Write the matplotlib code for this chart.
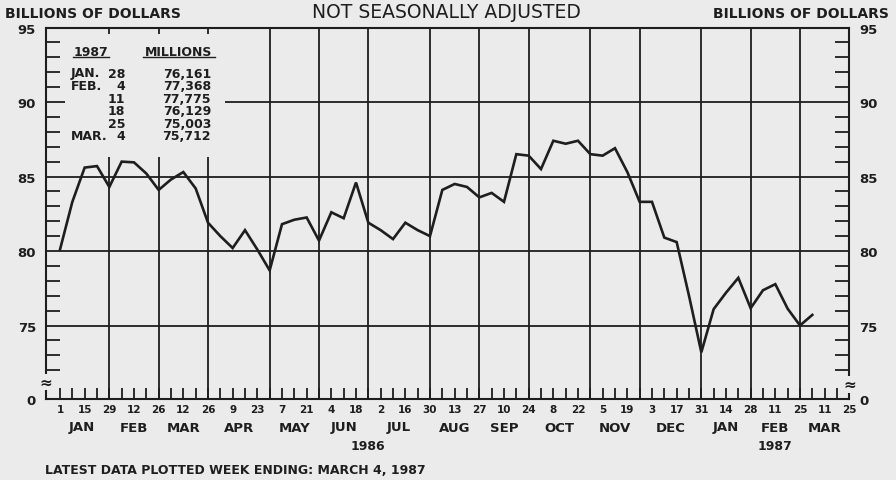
"""
Weekly series, billions of dollars, not seasonally adjusted,
weeks ending Wednesday Jan 1, 1986 through Mar 4, 1987.
Redrawn in the style of the old plotter chart.
"""

import matplotlib
matplotlib.use("Agg")
import matplotlib.pyplot as plt
import matplotlib.transforms as mtransforms
from matplotlib.patches import Rectangle

# weekly values (billions), week 0 = Jan 1 1986
reserves = [
    80.1, 83.3, 85.6, 85.7, 84.3,          # jan 86
    86.0, 85.95, 85.2, 84.1,               # feb
    84.8, 85.3, 84.2, 81.9,                # mar
    81.0, 80.2, 81.4, 80.1, 78.7,          # apr
    81.8, 82.1, 82.25, 80.7,               # may
    82.6, 82.2, 84.6, 81.9,                # jun
    81.4, 80.8, 81.9, 81.4, 81.0,          # jul
    84.1, 84.5, 84.3, 83.6,                # aug
    83.9, 83.3, 86.5, 86.4,                # sep
    85.5, 87.4, 87.2, 87.4, 86.5,          # oct
    86.4, 86.9, 85.3, 83.3,                # nov
    83.3, 80.9, 80.6, 77.0, 73.2,          # dec
    76.1, 77.2, 78.2, 76.161,              # jan 87
    77.368, 77.775, 76.129, 75.003,        # feb
    75.712,                                # mar 4
]

# every other week gets a day label (Jan 1 1986 .. Mar 25 1987)
day_labels = ["1", "15", "29", "12", "26", "12", "26", "9", "23", "7", "21",
              "4", "18", "2", "16", "30", "13", "27", "10", "24", "8", "22",
              "5", "19", "3", "17", "31", "14", "28", "11", "25", "11", "25"]

month_names = ["JAN", "FEB", "MAR", "APR", "MAY", "JUN", "JUL", "AUG",
               "SEP", "OCT", "NOV", "DEC", "JAN", "FEB", "MAR"]
# week index of the last Wednesday in each month (grid lines)
month_ends = [4, 8, 12, 17, 21, 25, 30, 34, 38, 43, 47, 52, 56, 60, 64]

year_labels = ["1986", "1987"]
year_pos = [25, 58]

table_month = ["JAN.", "FEB.", "", "", "", "MAR."]
table_day = ["28", "4", "11", "18", "25", "4"]
table_millions = [76161, 77368, 77775, 76129, 75003, 75712]

BG = "#ebebeb"
INK = "#1e1e1e"
W, H = 896, 481


def fx(x):
    return x / W


def fy(y):
    return 1 - y / H


def plot_chart():
    plt.rcParams["font.family"] = ["DejaVu Sans"]
    fig = plt.figure(figsize=(W / 100, H / 100), dpi=100, facecolor=BG)
    ax = fig.add_axes([0.051, 0.1694, 0.8969, 0.7713], facecolor=BG)

    weeks = list(range(len(reserves)))
    ax.plot(weeks, reserves, color=INK, lw=1.9, zorder=4, solid_joinstyle="miter")

    ax.set_xlim(-1.16, 64)
    ax.set_ylim(70.1, 95)

    # grid
    for w in month_ends[:-1]:
        ax.axvline(w, color=INK, lw=1.3, zorder=1)
    for v in [75, 80, 85, 90]:
        ax.axhline(v, color=INK, lw=1.3, zorder=1)

    for s in ax.spines.values():
        s.set_color(INK)
        s.set_linewidth(1.5)

    # x ticks
    ax.set_xticks(range(0, 65, 2))
    ax.set_xticklabels(day_labels)
    ax.set_xticks(range(1, 64, 2), minor=True)
    ax.tick_params(axis="x", which="both", direction="in", length=8, width=1.3,
                   color=INK, top=False, pad=4)
    ax.tick_params(axis="x", which="major", labelsize=7.5, labelcolor=INK)
    for t in ax.get_xticklabels():
        t.set_fontweight("bold")

    # y ticks, the bottom one stands for zero
    ax.set_yticks([70.1, 75, 80, 85, 90, 95])
    ax.set_yticklabels(["0", "75", "80", "85", "90", "95"])
    ax.set_yticks([v for v in range(72, 95) if v % 5 != 0], minor=True)
    ax.tick_params(axis="y", which="major", length=0, labelsize=9.5,
                   labelcolor=INK, left=True, right=True,
                   labelleft=True, labelright=True)
    ax.tick_params(axis="y", which="major", pad=7)
    ax.tick_params(axis="y", which="minor", direction="in", length=10,
                   width=1.3, color=INK, left=True, right=True)
    for t in ax.get_yticklabels():
        t.set_fontweight("bold")
    for tick in ax.yaxis.get_major_ticks():
        tick.label2.set_fontweight("bold")
        tick.set_pad(7)
    ax.yaxis.set_tick_params(which="major", pad=7)

    # axis break marks
    brk = mtransforms.blended_transform_factory(ax.transAxes, ax.transData)
    for xa, ya in [(0, 71.2), (1, 71.05)]:
        ax.text(xa, ya, "\u2248", transform=brk, ha="center", va="center",
                fontsize=11, fontweight="bold", color=INK, zorder=6,
                bbox=dict(boxstyle="square,pad=0.05", fc=BG, ec="none"))

    # month and year labels under the axis
    lab = mtransforms.blended_transform_factory(ax.transData, fig.transFigure)
    starts = [-0.4] + month_ends[:-1]
    for name, a, b in zip(month_names, starts, month_ends):
        ax.text((a + b) / 2, fy(428), name, transform=lab, ha="center",
                va="center", fontsize=9.5, fontweight="bold", color=INK)
    for name, w in zip(year_labels, year_pos):
        ax.text(w, fy(447), name, transform=lab, ha="center", va="center",
                fontsize=9, fontweight="bold", color=INK)

    # inset table, box hides the grid behind it
    ax.add_patch(Rectangle((0.024, 0.651), 0.199, 0.331, transform=ax.transAxes,
                           fc=BG, ec="none", zorder=2))
    fig.text(fx(91), fy(52), "1987", ha="center", va="center", fontsize=9,
             fontweight="bold", color=INK)
    fig.text(fx(179), fy(52), "MILLIONS", ha="center", va="center", fontsize=9,
             fontweight="bold", color=INK)
    fig.add_artist(plt.Line2D([fx(73), fx(109)], [fy(58), fy(58)], color=INK, lw=1))
    fig.add_artist(plt.Line2D([fx(143), fx(215)], [fy(58), fy(58)], color=INK, lw=1))
    for i, (m, d, v) in enumerate(zip(table_month, table_day, table_millions)):
        y = fy(74 + i * 12.6)
        fig.text(fx(71), y, m, ha="left", va="center", fontsize=9,
                 fontweight="bold", color=INK)
        fig.text(fx(125), y, d, ha="right", va="center", fontsize=9,
                 fontweight="bold", color=INK)
        fig.text(fx(211), y, f"{v:,}", ha="right", va="center", fontsize=9,
                 fontweight="bold", color=INK)

    # headings
    fig.text(fx(5), fy(14), "BILLIONS OF DOLLARS", ha="left", va="center",
             fontsize=10, fontweight="bold", color=INK)
    fig.text(fx(889), fy(14), "BILLIONS OF DOLLARS", ha="right", va="center",
             fontsize=10, fontweight="bold", color=INK)
    fig.text(fx(446), fy(13), "NOT SEASONALLY ADJUSTED", ha="center",
             va="center", fontsize=13.5, color=INK)
    fig.text(fx(45), fy(471), "LATEST DATA PLOTTED WEEK ENDING: MARCH 4, 1987",
             ha="left", va="center", fontsize=9, fontweight="bold", color=INK)

    fig.savefig("out.png", dpi=100, facecolor=BG)


def execute():
    plot_chart()


if __name__ == "__main__":
    execute()
